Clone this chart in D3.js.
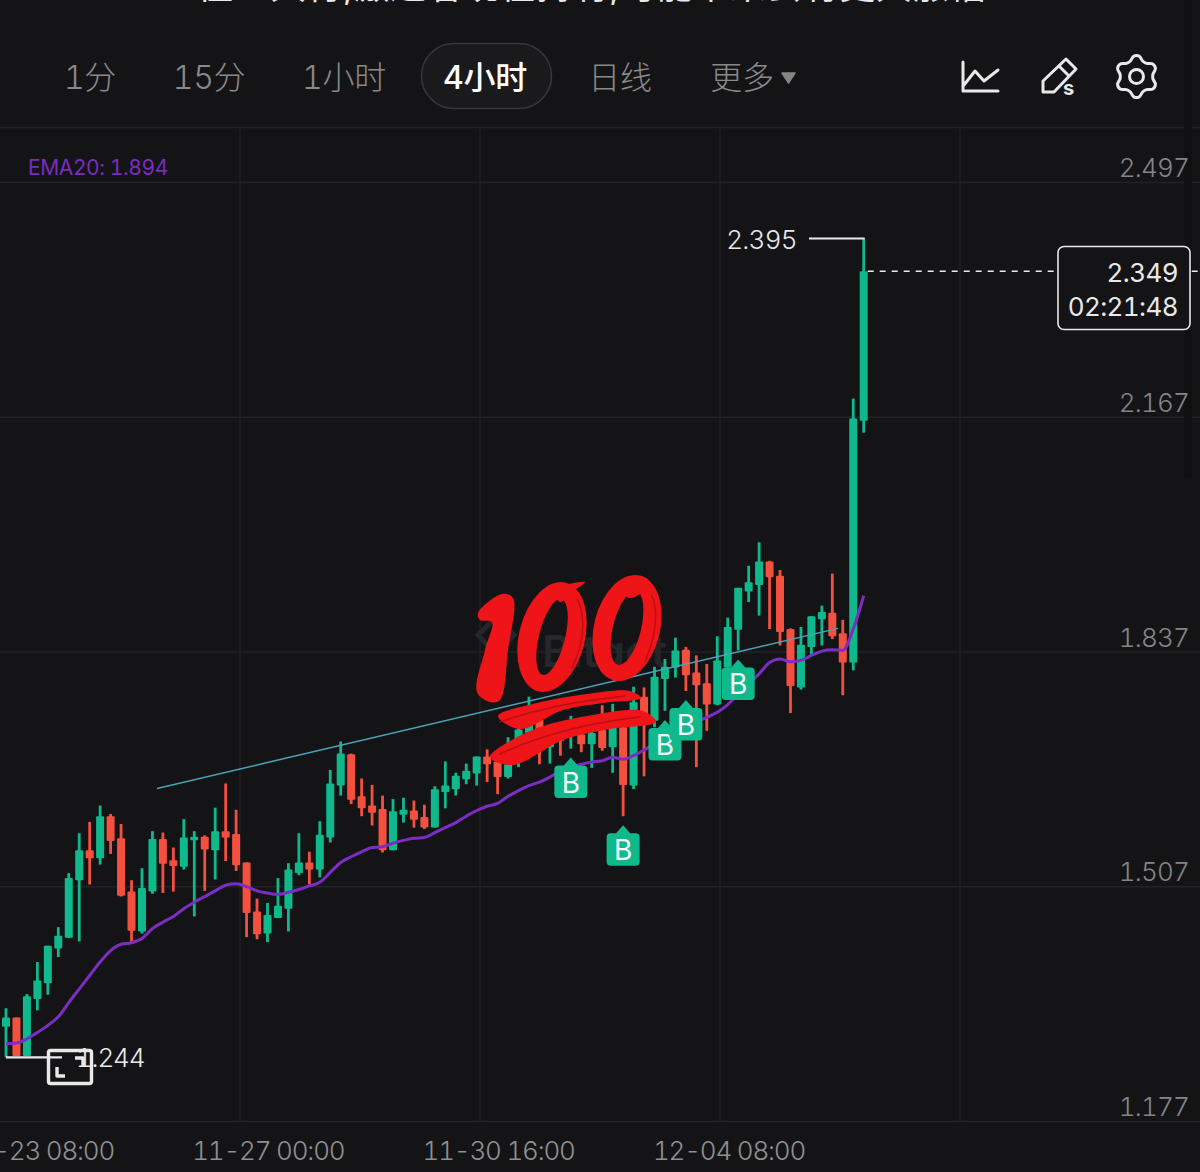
<!DOCTYPE html>
<html><head><meta charset="utf-8">
<script src="https://cdn.jsdelivr.net/npm/d3@7/dist/d3.min.js"></script>
<style>html,body{margin:0;padding:0;background:#141416;overflow:hidden}svg{display:block}text{font-family:Inter,"Noto Sans CJK SC",sans-serif;font-variant-numeric:tabular-nums;font-feature-settings:"tnum" 1}</style>
</head><body><svg id="c" width="1200" height="1172"></svg>
<script>
const open_ = [1.287,1.300,1.246,1.326,1.348,1.397,1.412,1.493,1.535,1.524,1.583,1.552,1.477,1.421,1.477,1.551,1.521,1.512,1.549,1.554,1.535,1.562,1.558,1.518,1.449,1.418,1.440,1.453,1.503,1.518,1.508,1.553,1.626,1.670,1.611,1.598,1.593,1.535,1.585,1.591,1.582,1.567,1.617,1.621,1.635,1.643,1.667,1.660,1.638,1.687,1.700,1.719,1.680,1.703,1.699,1.698,1.684,1.704,1.680,1.708,1.626,1.751,1.717,1.776,1.792,1.817,1.785,1.770,1.740,1.792,1.845,1.899,1.908,1.941,1.921,1.846,1.764,1.821,1.860,1.869,1.840,1.799,2.139];
const high_ = [1.313,1.300,1.333,1.378,1.401,1.427,1.503,1.559,1.575,1.598,1.586,1.572,1.493,1.510,1.562,1.560,1.539,1.579,1.562,1.556,1.595,1.629,1.592,1.518,1.467,1.461,1.496,1.517,1.559,1.533,1.576,1.648,1.688,1.671,1.636,1.627,1.612,1.607,1.609,1.605,1.599,1.625,1.660,1.644,1.657,1.667,1.677,1.667,1.694,1.713,1.751,1.720,1.708,1.708,1.724,1.703,1.708,1.739,1.741,1.717,1.765,1.764,1.793,1.804,1.834,1.821,1.809,1.797,1.836,1.862,1.904,1.935,1.968,1.942,1.929,1.847,1.849,1.864,1.879,1.924,1.859,2.170,2.395];
const low_ = [1.244,1.246,1.246,1.310,1.332,1.385,1.412,1.407,1.487,1.515,1.530,1.470,1.406,1.418,1.474,1.475,1.477,1.508,1.442,1.478,1.494,1.520,1.506,1.413,1.410,1.406,1.440,1.421,1.500,1.487,1.497,1.546,1.612,1.600,1.583,1.570,1.532,1.535,1.574,1.567,1.565,1.567,1.594,1.612,1.628,1.626,1.631,1.614,1.636,1.652,1.699,1.656,1.657,1.668,1.678,1.673,1.651,1.675,1.644,1.583,1.621,1.639,1.708,1.731,1.778,1.759,1.652,1.703,1.739,1.792,1.816,1.884,1.865,1.846,1.823,1.728,1.761,1.811,1.823,1.832,1.753,1.788,2.122];
const close_ = [1.300,1.246,1.330,1.352,1.401,1.415,1.496,1.535,1.524,1.583,1.548,1.471,1.422,1.482,1.551,1.516,1.513,1.553,1.554,1.536,1.562,1.553,1.514,1.447,1.417,1.444,1.457,1.508,1.518,1.508,1.557,1.629,1.671,1.606,1.594,1.588,1.535,1.590,1.592,1.578,1.567,1.621,1.626,1.640,1.647,1.667,1.656,1.638,1.656,1.705,1.736,1.699,1.699,1.689,1.706,1.684,1.700,1.679,1.708,1.627,1.743,1.712,1.779,1.793,1.816,1.781,1.767,1.740,1.802,1.849,1.904,1.912,1.941,1.919,1.842,1.766,1.824,1.864,1.870,1.836,1.799,2.142,2.349];
const ema20 = [1.263,1.264,1.270,1.279,1.289,1.301,1.321,1.340,1.359,1.378,1.394,1.403,1.405,1.411,1.425,1.434,1.442,1.453,1.462,1.470,1.478,1.486,1.488,1.484,1.478,1.475,1.473,1.476,1.480,1.485,1.490,1.504,1.518,1.526,1.533,1.539,1.540,1.545,1.549,1.552,1.553,1.560,1.567,1.574,1.583,1.591,1.597,1.601,1.611,1.619,1.626,1.631,1.638,1.647,1.652,1.656,1.659,1.661,1.666,1.663,1.668,1.676,1.685,1.692,1.699,1.705,1.715,1.722,1.729,1.740,1.755,1.769,1.783,1.799,1.804,1.800,1.802,1.809,1.815,1.817,1.816,1.846,1.893];
const trendIndex = [14.44,79.54];
const trendPrice = [1.622,1.847];
const buyIndex = [54,59,63,65,70];
const priceTicks = [2.497,2.167,1.837,1.507,1.177];
const timeLabels = ["11-23 08:00","11-27 00:00","11-30 16:00","12-04 08:00"];
const periods = ["1分","15分","1小时","4小时","日线","更多"];
const periodCentres = [90,209,344,485,620,742];
const activePeriod = "4小时";
const emaLabel = "EMA20: 1.894";
const lastPrice = 2.349, maxPrice = 2.395, minPrice = 1.244, countdown = "02:21:48";

const GREEN="#0fb98c",RED="#f4503f",BG="#141416",GRID="#212225",PURPLE="#7c2dc4",TEAL="#4ba3b8",WHITE="#e9e9e9";
const svg=d3.select("#c");
svg.append("rect").attr("width",1200).attr("height",1172).attr("fill",BG);
const x=d3.scaleLinear().domain([0,82]).range([6,863.7]);
const y=d3.scaleLinear().domain([1.177,2.497]).range([1105,166]);
const gridDrop=16.5;
const gridX=d3.scaleLinear().domain([1,4]).range([240,960]);
const labelX=d3.scaleLinear().domain([0,3]).range([38,729]);

// frame and grid
const grid=svg.append("g").attr("stroke",GRID).attr("stroke-width",1.4);
grid.append("line").attr("x1",0).attr("x2",1200).attr("y1",127.5).attr("y2",127.5);
grid.selectAll(".h").data(priceTicks).join("line").attr("x1",0).attr("x2",1200).attr("y1",d=>y(d)+gridDrop).attr("y2",d=>y(d)+gridDrop);
grid.selectAll(".v").data([1,2,3,4]).join("line").attr("x1",d=>gridX(d)).attr("x2",d=>gridX(d)).attr("y1",128).attr("y2",y(1.177)+gridDrop);
svg.append("rect").attr("x",1184).attr("y",0).attr("width",8).attr("height",478).attr("rx",4).attr("fill","#101012");

// clipped headline along the top edge
svg.append("text").attr("x",197).attr("y",-1).attr("font-size",36).attr("fill","#e8e8e8").attr("textLength",788)
  .text("往上大行,激进者现在持有,可能未来会有更大涨幅");

// period tabs
svg.append("rect").attr("x",421.5).attr("y",43.5).attr("width",130).attr("height",65).attr("rx",32.5).attr("fill","#1a1a1c").attr("stroke","#38383a").attr("stroke-width",1.5);
svg.selectAll(".tab").data(periods).join("text").attr("class","tab").attr("x",(d,i)=>periodCentres[i]).attr("y",89)
  .attr("text-anchor","middle").attr("font-size",32).attr("letter-spacing",-0.3).attr("font-weight",d=>d===activePeriod?500:300)
  .attr("fill",d=>d===activePeriod?"#ffffff":"#8a8a8a").text(d=>d);
svg.append("path").attr("d",d3.line()([[782,73],[795,73],[788.5,83]])+"Z").attr("fill","#858585").attr("stroke","#858585").attr("stroke-width",1.5).attr("stroke-linejoin","round");

// toolbar icons
const ic=svg.append("g").attr("fill","none").attr("stroke",WHITE).attr("stroke-width",3).attr("stroke-linejoin","round").attr("stroke-linecap","round");
ic.append("path").attr("d","M963 62V91H998M964 85L975 71L984 81L998 70");
ic.append("path").attr("d","M1043 92V81L1066 59L1076 69L1054 92ZM1059 66L1069 76");
ic.append("text").attr("x",1063).attr("y",95).attr("font-size",20).attr("font-weight",700).attr("fill",WHITE).attr("stroke","none").text("s");
const gearPts=d3.range(24).map(i=>[(i+0.5)*Math.PI/12,(i%4===0||i%4===3)?20.5:16.5]);
ic.append("path").attr("transform","translate(1136.5,76.5)").attr("d",d3.lineRadial().curve(d3.curveCatmullRomClosed.alpha(.5))(gearPts));
ic.append("circle").attr("cx",1136.5).attr("cy",76.5).attr("r",7);

// watermark
const wm=svg.append("g").attr("fill","#26272a");
wm.append("path").attr("d","M478 635L496 617L514 635L496 654Z").attr("fill","none").attr("stroke","#26272a").attr("stroke-width",5);
wm.append("text").attr("x",542).attr("y",667).attr("font-size",44).attr("font-weight",600).text("Bitget");

// candles
const idx=d3.range(open_.length);
const isUp=i=>close_[i]>=open_[i];
const cg=svg.append("g");
cg.selectAll(".w").data(idx).join("rect").attr("x",i=>x(i)-1.4).attr("width",2.8)
  .attr("y",i=>y(high_[i])).attr("height",i=>y(low_[i])-y(high_[i])).attr("fill",i=>isUp(i)?GREEN:RED);
cg.selectAll(".b").data(idx).join("rect").attr("x",i=>x(i)-4).attr("width",8).attr("rx",1)
  .attr("y",i=>y(Math.max(open_[i],close_[i]))).attr("height",i=>Math.max(2,Math.abs(y(open_[i])-y(close_[i])))).attr("fill",i=>isUp(i)?GREEN:RED);

// EMA and trend line
svg.append("path").attr("d",d3.line().x((d,i)=>x(i)).y(d=>y(d)).curve(d3.curveMonotoneX)(ema20)).attr("fill","none").attr("stroke",PURPLE).attr("stroke-width",3);
svg.append("path").attr("d",d3.line().x(d=>x(d)).y((d,i)=>y(trendPrice[i]))(trendIndex)).attr("fill","none").attr("stroke",TEAL).attr("stroke-width",1.5);
svg.append("text").attr("x",28).attr("y",175).attr("font-size",21).attr("letter-spacing",-0.4).attr("fill","#7b2cbf").text(emaLabel);

// price axis
svg.selectAll(".pt").data(priceTicks).join("text").attr("class","pt").attr("x",1189).attr("y",d=>y(d)+11).attr("text-anchor","end")
  .attr("font-size",26).attr("letter-spacing",-0.8).attr("font-weight",300).attr("fill","#858585").text(d=>d3.format(".3f")(d));
// time axis
svg.selectAll(".tt").data(timeLabels).join("text").attr("class","tt").attr("x",(d,i)=>labelX(i)).attr("y",1160).attr("text-anchor","middle")
  .attr("font-size",26).attr("letter-spacing",-1.2).attr("font-weight",300).attr("fill","#909090").text(d=>d);

// max / last / min annotations
const lastI=82,minI=0;
svg.append("line").attr("x1",809).attr("x2",x(lastI)+1).attr("y1",y(maxPrice)).attr("y2",y(maxPrice)).attr("stroke",WHITE).attr("stroke-width",2);
svg.append("text").attr("x",797).attr("y",y(maxPrice)+10).attr("text-anchor","end").attr("font-size",26).attr("letter-spacing",-0.7).attr("font-weight",300).attr("fill",WHITE).text(d3.format(".3f")(maxPrice));
svg.append("line").attr("x1",x(minI)).attr("x2",62).attr("y1",y(minPrice)).attr("y2",y(minPrice)).attr("stroke",WHITE).attr("stroke-width",2.4);
svg.append("text").attr("x",76).attr("y",y(minPrice)+10).attr("font-size",26).attr("letter-spacing",-1.2).attr("font-weight",300).attr("fill",WHITE).text(d3.format(".3f")(minPrice));
svg.append("line").attr("x1",x(lastI)+4).attr("x2",1200).attr("y1",y(lastPrice)).attr("y2",y(lastPrice)).attr("stroke",WHITE).attr("stroke-width",1.4).attr("stroke-dasharray","6 6");
svg.append("rect").attr("x",1058).attr("y",246.5).attr("width",132).attr("height",83).attr("rx",6).attr("fill",BG).attr("stroke",WHITE).attr("stroke-width",1.6);
svg.append("text").attr("x",1178).attr("y",282).attr("text-anchor","end").attr("font-size",26).attr("letter-spacing",-0.6).attr("font-weight",400).attr("fill",WHITE).text(d3.format(".3f")(lastPrice));
svg.append("text").attr("x",1178).attr("y",316).attr("text-anchor","end").attr("font-size",26).attr("letter-spacing",-0.6).attr("font-weight",400).attr("fill",WHITE).text(countdown);

// expand icon
const ex=svg.append("g").attr("fill","none").attr("stroke",WHITE).attr("stroke-width",3.4).attr("stroke-linejoin","round");
ex.append("rect").attr("x",48.5).attr("y",1050.5).attr("width",43).attr("height",33).attr("rx",2);
ex.append("path").attr("d","M57 1067V1076H65M83 1067V1058H75");

// buy badges hang under each candle's low
const badge=svg.selectAll(".buy").data(buyIndex).join("g").attr("class","buy").attr("transform",i=>`translate(${x(i)},${y(low_[i])+9})`);
badge.append("path").attr("d","M0 0L7 8H12.5Q16.5 8 16.5 12V36Q16.5 40.5 12.5 40.5H-12.5Q-16.5 40.5 -16.5 36V12Q-16.5 8 -12.5 8H-7Z").attr("fill",GREEN);
badge.append("text").attr("y",35).attr("text-anchor","middle").attr("font-size",28).attr("font-weight",400).attr("fill","#f4fffb").text("B");

// hundred-points sticker
const st=svg.append("g").attr("fill","#ee1418");
const blob=d3.line().curve(d3.curveCatmullRomClosed.alpha(.5));
st.append("path").attr("d",blob([[478,613],[502,594],[513,598],[508,650],[500,700],[490,702],[477,692],[485,650],[492,622],[480,620]]));
function ring(cx,cy,rot,rx,ry,ix,iy){
  const e=(a,b)=>`M${-a} 0A${a} ${b} 0 1 0 ${a} 0A${a} ${b} 0 1 0 ${-a} 0Z`;
  st.append("path").attr("transform",`translate(${cx},${cy}) rotate(${rot})`).attr("fill-rule","evenodd").attr("d",e(rx,ry)+e(ix,iy));
}
ring(552,637,14,33,56,13,39);
ring(627,628,14,33,54,14,38);
st.append("path").attr("d",blob([[555,590],[585,582],[572,592],[560,602]]));
st.append("path").attr("d",blob([[617,586],[646,578],[648,586],[630,598]]));
st.append("path").attr("d",blob([[498,716],[537,703],[587,694],[630,691],[641,698],[603,703],[563,710],[520,729]]));
st.append("path").attr("d",blob([[490,757],[530,731],[587,716],[643,711],[656,722],[610,729],[563,740],[513,765]]));
const streak=svg.append("g").attr("fill","none").attr("stroke","#a90d12").attr("stroke-width",1.5).attr("stroke-linecap","round").attr("opacity",.75);
streak.append("path").attr("d","M578 600Q590 630 572 668M652 596Q662 620 645 662M500 722Q550 704 625 696M500 754Q560 726 640 717");
</script></body></html>
